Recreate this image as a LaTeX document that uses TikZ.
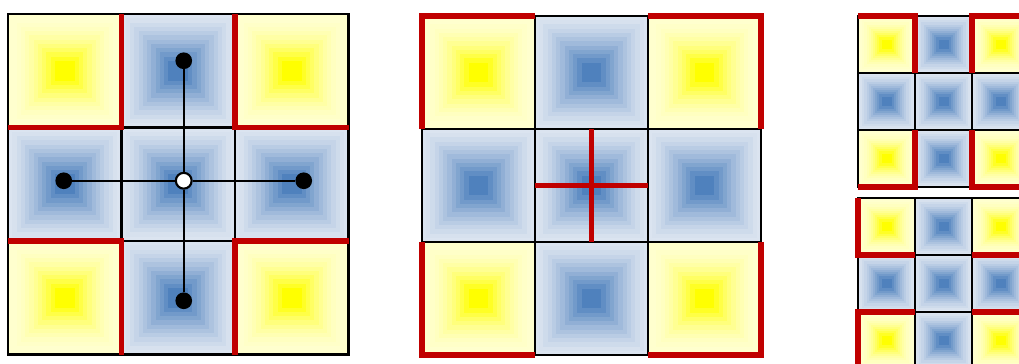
\documentclass[tikz,border=0pt]{standalone}
\usepackage{tikz}
\usetikzlibrary{positioning, calc}
\usepackage{xcolor}
\definecolor{AmarilloBorde}{RGB}{255,255,206}
\definecolor{AmarilloCentro}{RGB}{255,255,0}
\definecolor{AzulBorde}{RGB}{219,228,240}
\definecolor{AzulCentro}{RGB}{79,129,189}
\definecolor{RojoMarco}{RGB}{192,0,0}
\tikzset{%
  celda/.style  ={rectangle, draw=black, line width=1.3pt, outer sep=0pt,
                  inner sep=0pt},
  marco/.style  ={draw=RojoMarco, line width=3pt, line join=miter},
  punto/.style  ={circle, fill=black, minimum size=9.5pt, inner sep=0pt},
  centro/.style ={circle, draw=black, fill=white, line width=1.2pt,
                  minimum size=9pt, inner sep=0pt},
  ln/.style     ={-, draw=black, line width=1.3pt}
}
% #1 nombre, #2 x, #3 y, #4 lado, #5 tono (Amarillo/Azul), #6 exponente
\newcommand{\casilla}[6]{%
  \foreach \k in {0,...,11}{%
    \pgfmathsetmacro{\lado}{#4*(1-0.075*\k)}%
    \pgfmathtruncatemacro{\mezcla}{100*(\k/11)^#6}%
    \fill[#5Centro!\mezcla!#5Borde] ({#2-\lado/2},{#3-\lado/2}) rectangle ++(\lado,\lado);
  }%
  \node[celda, minimum size=#4cm] (#1) at (#2,#3) {};
}
% #1 prefijo, #2 x, #3 y (esquina superior izquierda), #4 lado
\newcommand{\rejilla}[4]{%
  \foreach \f/\col/\tono/\pot in {1/1/Amarillo/2,1/2/Azul/1.4,1/3/Amarillo/2,
                                  2/1/Azul/1.4,2/2/Azul/1.4,2/3/Azul/1.4,
                                  3/1/Amarillo/2,3/2/Azul/1.4,3/3/Amarillo/2}{%
    \pgfmathsetmacro{\cx}{#2+(\col-0.5)*#4}%
    \pgfmathsetmacro{\cy}{#3-(\f-0.5)*#4}%
    \casilla{#1\f\col}{\cx}{\cy}{#4}{\tono}{\pot}
  }%
}

\begin{document}
\begin{tikzpicture}
  \useasboundingbox (0,0) rectangle (20.38,7.26);
  \rejilla{a}{0.16}{6.98}{2.27}
  \rejilla{b}{8.44}{6.94}{2.26}
  \rejilla{c}{17.16}{6.94}{1.14}
  \rejilla{d}{17.16}{3.30}{1.14}
  % bordes rojos
  \draw[marco] (a11.south west) -- (a11.south east) -- (a11.north east);
  \draw[marco] (a13.north west) -- (a13.south west) -- (a13.south east);
  \draw[marco] (a31.north west) -- (a31.north east) -- (a31.south east);
  \draw[marco] (a33.north east) -- (a33.north west) -- (a33.south west);
  \draw[marco] (b11.north east) -- (b11.north west) -- (b11.south west);
  \draw[marco] (b13.north west) -- (b13.north east) -- (b13.south east);
  \draw[marco] (b31.north west) -- (b31.south west) -- (b31.south east);
  \draw[marco] (b33.south west) -- (b33.south east) -- (b33.north east);
  \draw[marco] (b22.north) -- (b22.south);
  \draw[marco] (b22.west) -- (b22.east);
  \draw[marco] (c11.north west) -- (c11.north east) -- (c11.south east);
  \draw[marco] (c13.north east) -- (c13.north west) -- (c13.south west);
  \draw[marco] (c31.north east) -- (c31.south east) -- (c31.south west);
  \draw[marco] (c33.north west) -- (c33.south west) -- (c33.south east);
  \draw[marco] (d11.north west) -- (d11.south west) -- (d11.south east);
  \draw[marco] (d13.south west) -- (d13.south east);
  \draw[marco] (d31.north east) -- (d31.north west) -- (d31.south west);
  \draw[marco] (d33.north west) -- (d33.north east);
  % cruz
  \node[centro] (cen) at ($(a22)+(0.11,0.07)$) {};
  \node[punto] (arr) at ($(cen)+(0,2.4)$) {};
  \node[punto] (aba) at ($(cen)+(0,-2.4)$) {};
  \node[punto] (izq) at ($(cen)+(-2.4,0)$) {};
  \node[punto] (der) at ($(cen)+(2.4,0)$) {};
  \draw[ln] (cen)--(arr); \draw[ln] (cen)--(aba);
  \draw[ln] (cen)--(izq); \draw[ln] (cen)--(der);
\end{tikzpicture}
\end{document}
